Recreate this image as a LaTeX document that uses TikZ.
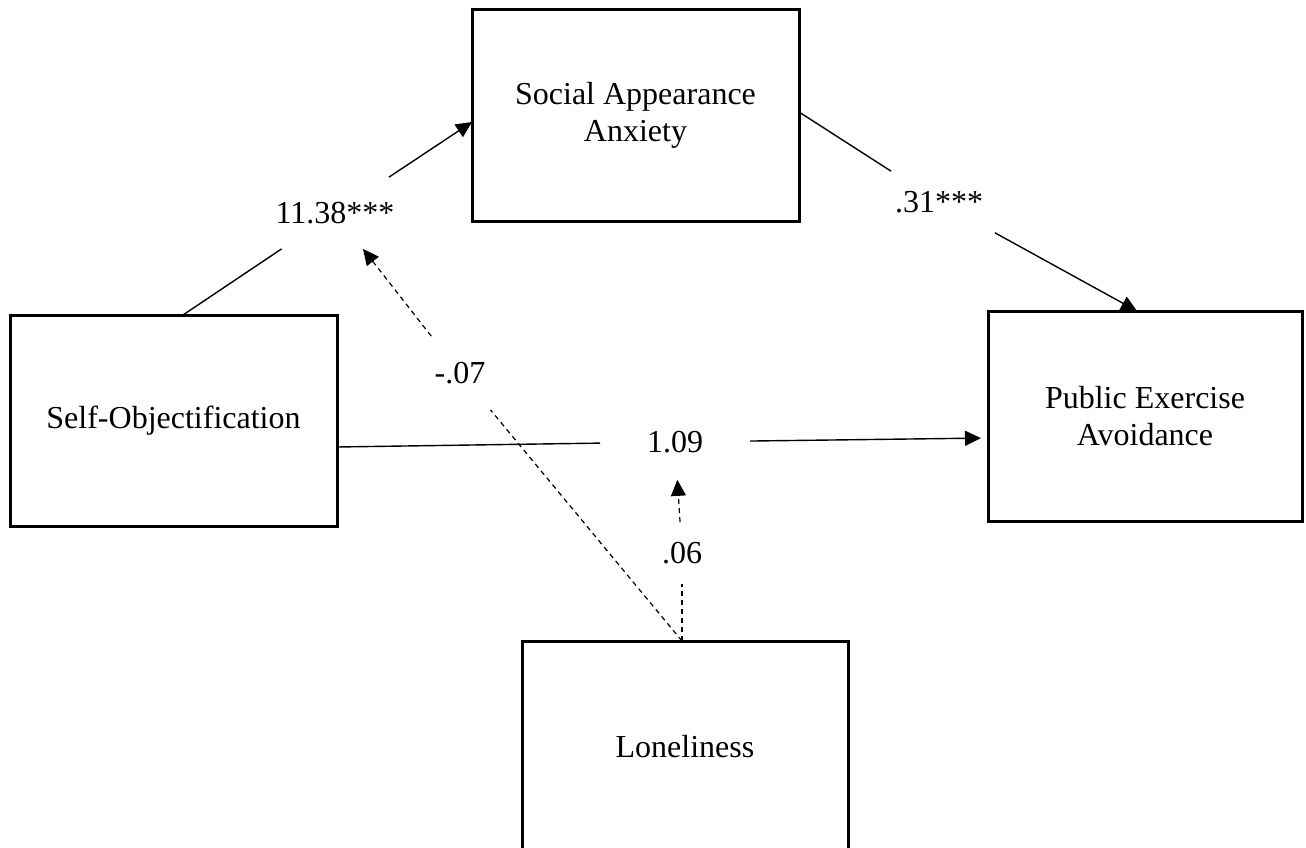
\documentclass[tikz,border=0pt]{standalone}
\usepackage{fontspec}
\setmainfont{Liberation Serif}
\usetikzlibrary{arrows.meta,calc}
\begin{document}
\begin{tikzpicture}[x=1pt,y=-1pt,
  var/.style={draw, line width=3pt, outer sep=0pt, inner sep=0pt,
    align=center, minimum height=211pt, font=\fontsize{32}{37}\selectfont},
  lbl/.style={font=\fontsize{32}{37}\selectfont, outer sep=0pt},
  conn/.style={line width=1.4pt},
  mod/.style={line width=1.2pt, dash pattern=on 5pt off 4pt},
  arr/.style={-{Triangle[length=16pt,width=15pt]}}]
  \clip (0,0) rectangle (1306,848);
  \fill[white] (0,0) rectangle (1306,848);

  % variables
  \node[var, minimum width=327pt] (so)  at (173.5,420.5) {Self-Objectification};
  \node[var, minimum width=327pt] (saa) at (635.5,115.5) {Social Appearance\\Anxiety};
  \node[var, minimum width=314pt, minimum height=210pt] (pea) at (1145,416) {Public Exercise\\Avoidance};
  \node[var, minimum width=326pt] (lon) at (685,746.5) {Loneliness};

  % path coefficients
  \node[lbl, inner xsep=20pt, inner ysep=25pt] (b1) at (335,213) {11.38***};
  \node[lbl, inner xsep=20pt, inner ysep=20pt] (b2) at (939,202) {.31***};
  \node[lbl, inner xsep=47pt, inner ysep=27pt] (b3) at (675,442) {1.09};
  \node[lbl, inner xsep=15pt, inner ysep=26pt] (b4) at (460,373) {-.07};
  \node[lbl, inner xsep=12pt, inner ysep=20pt] (b5) at (682,553) {.06};

  % direct and indirect paths
  \draw[conn] ($(so.north)+(9.5,0)$) -- (b1);
  \draw[conn,arr] (b1) -- ($(saa.west)+(0,6.5)$);
  \draw[conn] ($(saa.east)+(0,-3.5)$) -- (b2);
  \draw[conn,arr] (b2) -- ($(pea.north)+(-8,0)$);
  \draw[conn] ($(so.east)+(0,26.5)$) -- (b3);
  \draw[conn,arr,shorten >=7pt] (b3) -- ($(pea.west)+(0,22)$);

  % moderation by loneliness
  \draw[mod] ($(lon.north)+(-3,0)$) -- (b4);
  \draw[mod,arr] (b4) -- (b1);
  \draw[mod] ($(lon.north)+(-3,0)$) -- (b5);
  \draw[mod,arr] (b5) -- (b3);
\end{tikzpicture}
\end{document}
